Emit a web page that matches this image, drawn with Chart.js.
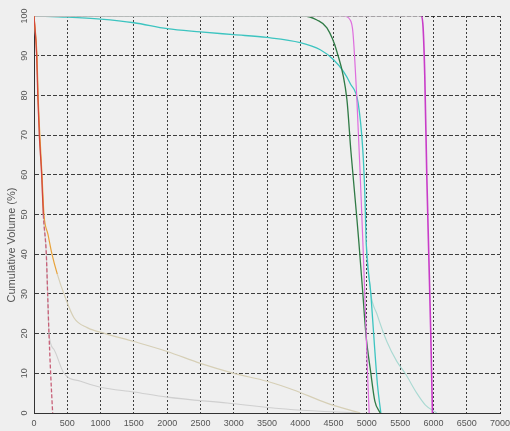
<!DOCTYPE html>
<html>
<head>
<meta charset="utf-8">
<script src="https://cdn.jsdelivr.net/npm/chart.js@4/dist/chart.umd.min.js"></script>
<style>
  html, body { margin: 0; padding: 0; background: #efefef; }
  #wrap { width: 510px; height: 431px; }
</style>
</head>
<body>
<div id="wrap"><canvas id="dvh" width="510" height="431"></canvas></div>
<script>
// dose (x) and cumulative volume (y), one pair of arrays per curve
const redDose = [0, 40, 57, 80, 115, 140, 185, 205, 225, 250, 280];
const redVol  = [100, 90, 80, 70, 60, 50, 40, 30, 20, 10, 0];

const orangeDose = [0, 45, 62, 88, 120, 150, 210, 270, 350, 450, 600, 800, 1070, 1500, 2000, 2500, 3000, 3500, 3900, 4400, 4900];
const orangeVol  = [100, 90, 80, 70, 60, 50, 45, 40, 35, 30, 24, 21.5, 20, 18, 15.5, 12.5, 10, 8, 5.8, 2.5, 0];

const greyDose = [0, 40, 57, 80, 115, 140, 185, 205, 225, 300, 450, 700, 1000, 1500, 2000, 2900, 3900, 4900];
const greyVol  = [100, 90, 80, 70, 60, 50, 40, 30, 20, 16, 10, 8, 6.5, 5.3, 4, 2.5, 0.8, 0];

const tealDose = [0, 500, 1000, 1500, 2000, 2500, 3000, 3500, 4000, 4300, 4500, 4650, 4750, 4870, 4940, 4970, 4990, 5060, 5110, 5160, 5210];
const tealVol  = [100, 99.7, 99.2, 98.3, 96.8, 96, 95.3, 94.6, 93.3, 91.5, 89, 86, 83, 78, 66, 55, 43, 30, 18, 7, 0];

const tailDose = [4990, 5060, 5150, 5300, 5450, 5575, 5750, 5880, 6050];
const tailVol  = [43, 30, 25, 18, 13, 10, 5, 2, 0];

const greenDose = [0, 4050, 4250, 4400, 4550, 4700, 4760, 4850, 4880, 4940, 4985, 5060, 5120, 5200];
const greenVol  = [100, 100, 99, 97, 91, 79, 66, 49, 43, 30, 20, 10, 3, 0];

const mag1Dose = [0, 4650, 4750, 4790, 4850, 4900, 4940, 4980, 5010, 5035];
const mag1Vol  = [100, 100, 99, 96, 79, 60, 43, 25, 10, 0];

const mag2Dose = [0, 5820, 5845, 5870, 5900, 5930, 5960, 5985];
const mag2Vol  = [100, 100, 97, 85, 60, 40, 20, 0];

const xTicks = [0, 500, 1000, 1500, 2000, 2500, 3000, 3500, 4000, 4500, 5000, 5500, 6000, 6500, 7000];
const yTicks = [0, 10, 20, 30, 40, 50, 60, 70, 80, 90, 100];

const FONT = '"Liberation Sans", Arial, sans-serif';
const topGrey = '#c9c4c9';

function pts(xs, ys) {
    return xs.map((x, i) => ({ x: x, y: ys[i] }));
}

// flat part at 100% is drawn faint, like in the scan
function flatTop(ctx) {
    return (ctx.p0.parsed.y >= 99.9 && ctx.p1.parsed.y >= 99.9) ? topGrey : undefined;
}

function line(xs, ys, color, width, extra) {
    return Object.assign({
        data: pts(xs, ys),
        borderColor: color,
        borderWidth: width,
        pointRadius: 0,
        fill: false,
        cubicInterpolationMode: 'monotone'
    }, extra || {});
}

const yTitle = {
    id: 'yTitle',
    afterDraw(chart) {
        const ctx = chart.ctx;
        ctx.save();
        ctx.translate(12, 245);
        ctx.rotate(-Math.PI / 2);
        ctx.font = '11px ' + FONT;
        ctx.fillStyle = '#555';
        ctx.textAlign = 'center';
        ctx.textBaseline = 'middle';
        ctx.fillText('Cumulative Volume (%)', 0, 0);
        ctx.restore();
    }
};

const datasets = [
    line(redDose, redVol, '#d4463a', 1.3, {
        segment: { borderColor: c => c.p0.parsed.y <= 50 ? '#c86078' : undefined,
                   borderDash: c => c.p0.parsed.y <= 50 ? [4, 2] : undefined }
    }),
    line(orangeDose, orangeVol, '#e8a23a', 1.2, {
        segment: { borderColor: c => c.p0.parsed.y <= 36 ? '#d6cfb6' : undefined }
    }),
    line(greyDose, greyVol, '#cfcfcf', 1.1),
    line(mag2Dose, mag2Vol, '#c83cc8', 1.6, { segment: { borderColor: flatTop } }),
    line(mag1Dose, mag1Vol, '#de6ede', 1.2, { segment: { borderColor: flatTop } }),
    line(greenDose, greenVol, '#2f7a45', 1.3),
    line(tealDose, tealVol, '#3cc4c0', 1.3),
    line(tailDose, tailVol, '#a9d9d2', 1.1)
];

new Chart(document.getElementById('dvh'), {
    type: 'line',
    data: { datasets: datasets },
    options: {
        responsive: false,
        animation: false,
        layout: { padding: { top: 16, right: 10, left: 0, bottom: 0 } },
        plugins: { legend: { display: false }, tooltip: { enabled: false } },
        scales: {
            x: {
                type: 'linear',
                min: 0,
                max: 7000,
                afterBuildTicks: s => { s.ticks = xTicks.map(v => ({ value: v })); },
                afterFit: s => { s.height = 18; s.paddingLeft = 0; s.paddingRight = 0; },
                grid: { color: 'rgba(30,30,30,0.85)', lineWidth: 1, drawTicks: false },
                border: { display: true, color: '#333', width: 1, dash: [2, 2] },
                ticks: { font: { family: FONT, size: 9 }, color: '#555', padding: 5, maxRotation: 0,
                         callback: v => String(v) }
            },
            y: {
                min: 0,
                max: 100,
                afterBuildTicks: s => { s.ticks = yTicks.map(v => ({ value: v })); },
                afterFit: s => { s.width = 34; },
                grid: { color: 'rgba(30,30,30,0.85)', lineWidth: 1, drawTicks: false },
                border: { display: true, color: '#333', width: 1, dash: [4, 2] },
                ticks: { font: { family: FONT, size: 9 }, color: '#555', padding: 2,
                         minRotation: 90, maxRotation: 90, crossAlign: 'center',
                         callback: v => String(v) }
            }
        }
    },
    plugins: [yTitle]
});
</script>
</body>
</html>
